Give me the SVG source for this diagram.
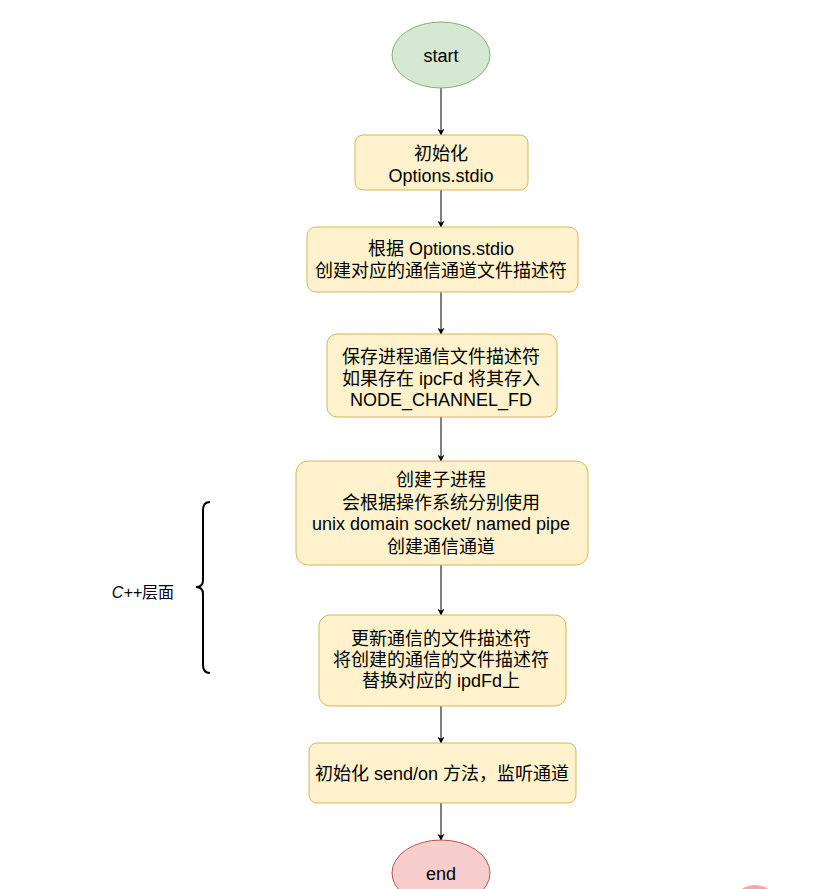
<svg xmlns="http://www.w3.org/2000/svg" width="834" height="889" viewBox="0 0 834 889">
<defs>
<style>
.box{fill:#fff2cc;stroke:#d6b656;stroke-width:1}
.t{font-family:"Comic Sans MS","Liberation Sans","Noto Sans CJK SC",sans-serif;font-size:18px;fill:#000;text-anchor:middle}
.e{stroke:#000;stroke-width:1;fill:none;marker-end:url(#arr)}
</style>
<marker id="arr" viewBox="0 0 10 10" refX="9" refY="5" markerWidth="7" markerHeight="7" orient="auto" markerUnits="userSpaceOnUse">
<path d="M0,0 L10,5 L0,10 L3,5 Z" fill="#000"/>
</marker>
</defs>
<rect width="834" height="889" fill="#fff"/>
<g id="connectors">
<line class="e" x1="441" y1="88" x2="441" y2="135"/>
<line class="e" x1="441" y1="190" x2="441" y2="227"/>
<line class="e" x1="441" y1="292" x2="441" y2="334"/>
<line class="e" x1="441" y1="417" x2="441" y2="461"/>
<line class="e" x1="441" y1="565" x2="441" y2="615"/>
<line class="e" x1="441" y1="706" x2="441" y2="743"/>
<line class="e" x1="441" y1="803" x2="441" y2="840"/>
</g>
<g id="start">
<ellipse cx="441" cy="55" rx="49" ry="33" fill="#d5e8d4" stroke="#82b366"/>
<text class="t" x="441" y="62">start</text>
</g>
<g id="n1">
<rect class="box" x="355" y="135" width="173" height="55" rx="8"/>
<text class="t" x="441" y="160">初始化</text>
<text class="t" x="441" y="182">Options.stdio</text>
</g>
<g id="n2">
<rect class="box" x="307" y="227" width="271" height="65" rx="9"/>
<text class="t" x="441" y="255">根据 Options.stdio</text>
<text class="t" x="441" y="277">创建对应的通信通道文件描述符</text>
</g>
<g id="n3">
<rect class="box" x="327" y="334" width="230" height="83" rx="10"/>
<text class="t" x="441" y="363">保存进程通信文件描述符</text>
<text class="t" x="441" y="385">如果存在 ipcFd 将其存入</text>
<text class="t" x="441" y="406">NODE_CHANNEL_FD</text>
</g>
<g id="n4">
<rect class="box" x="296" y="461" width="292" height="104" rx="12"/>
<text class="t" x="441" y="486">创建子进程</text>
<text class="t" x="441" y="509">会根据操作系统分别使用</text>
<text class="t" x="441" y="530">unix domain socket/ named pipe</text>
<text class="t" x="441" y="553">创建通信通道</text>
</g>
<g id="n5">
<rect class="box" x="319" y="615" width="247" height="91" rx="11"/>
<text class="t" x="441" y="645">更新通信的文件描述符</text>
<text class="t" x="441" y="666">将创建的通信的文件描述符</text>
<text class="t" x="441" y="687">替换对应的 ipdFd上</text>
</g>
<g id="n6">
<rect class="box" x="309" y="743" width="267" height="60" rx="8"/>
<text class="t" x="442" y="780">初始化 send/on 方法，监听通道</text>
</g>
<g id="end">
<ellipse cx="441" cy="873" rx="49" ry="33" fill="#f8cecc" stroke="#b85450"/>
<text class="t" x="441" y="880">end</text>
</g>
<g id="brace">
<path d="M210,502 Q203,502 203,510 L203,580 Q203,587 196,587 Q203,587 203,594 L203,665 Q203,673 210,673" fill="none" stroke="#000" stroke-width="2"/>
<text class="t" x="143" y="598" style="font-size:16px"><tspan style="font-style:italic">C++</tspan>层面</text>
</g>
<ellipse cx="755" cy="905" rx="22" ry="20" fill="#f8a5a5"/>
</svg>
